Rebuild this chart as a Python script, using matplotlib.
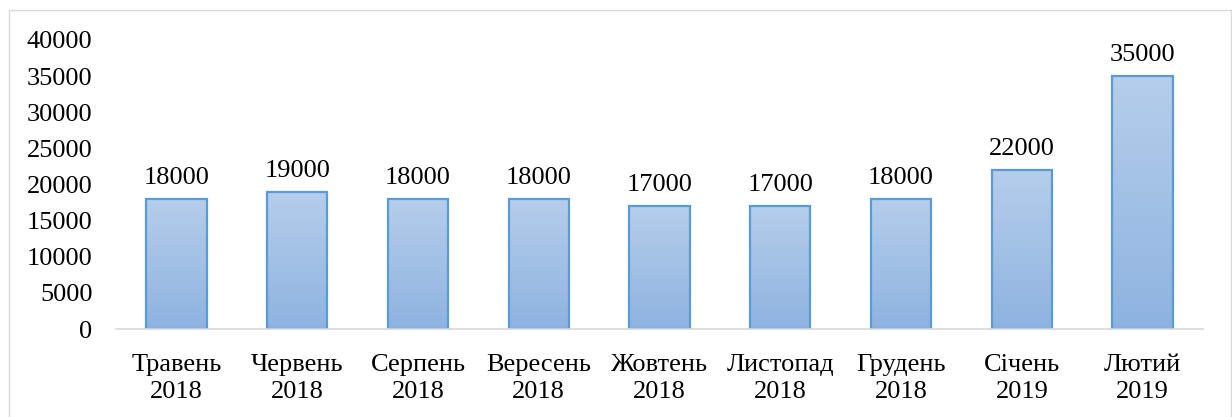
import numpy as np
import matplotlib
matplotlib.use("Agg")
import matplotlib.pyplot as plt
from matplotlib.patches import Rectangle
from matplotlib.colors import LinearSegmentedColormap

categories = ["Травень\n2018", "Червень\n2018", "Серпень\n2018", "Вересень\n2018",
              "Жовтень\n2018", "Листопад\n2018", "Грудень\n2018", "Січень\n2019", "Лютий\n2019"]
values = [18000, 19000, 18000, 18000, 17000, 17000, 18000, 22000, 35000]
yticks = [0, 5000, 10000, 15000, 20000, 25000, 30000, 35000, 40000]

plt.rcParams['font.family'] = ['Liberation Serif', 'DejaVu Serif']
FS = 19

fig = plt.figure(figsize=(12.32, 4.17), dpi=100)
ax = fig.add_axes([116/1232, 1-329/417, (1203-116)/1232, (329-40)/417])

x = np.arange(len(categories))
bars = ax.bar(x, values, width=0.5, color='none', edgecolor='#5B9BD5', linewidth=1.6, zorder=3)

cmap = LinearSegmentedColormap.from_list('g', ['#8EB3E0', '#B5CEEB'])
grad = np.linspace(0, 1, 256).reshape(-1, 1)
for b in bars:
    im = ax.imshow(grad, cmap=cmap, origin='lower', aspect='auto',
                   extent=(b.get_x(), b.get_x() + b.get_width(), 0, b.get_height()), zorder=2)
    im.set_clip_path(b)

for xi, v in zip(x, values):
    ax.annotate(f"{v}", (xi, v), xytext=(0, 7), textcoords='offset points',
                ha='center', va='bottom', fontsize=FS, color='black')

ax.set_xlim(-0.5, len(categories) - 0.5)
ax.set_ylim(0, 40000)
ax.set_yticks(yticks)
ax.set_yticklabels([str(t) for t in yticks], fontsize=FS)
ax.set_xticks(x)
ax.set_xticklabels(categories, fontsize=FS, linespacing=1.3)
ax.tick_params(axis='both', length=0)
ax.tick_params(axis='y', pad=17)
ax.tick_params(axis='x', pad=18)
for s in ['top', 'right', 'left']:
    ax.spines[s].set_visible(False)
ax.spines['bottom'].set_color('#D9D9D9')
ax.spines['bottom'].set_linewidth(1.2)
ax.spines['bottom'].set_zorder(4)

fig.patches.append(Rectangle((9/1232, -0.01), (1231-9)/1232, 1 - 10/417 + 0.01,
                             transform=fig.transFigure, fill=False,
                             edgecolor='#D9D9D9', linewidth=1))

fig.savefig("out.png", dpi=100)
